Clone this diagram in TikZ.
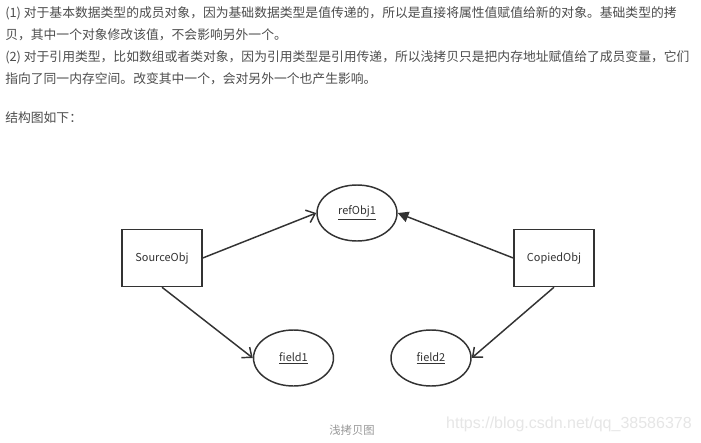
\documentclass[tikz,border=0pt]{standalone}
\usepackage{fontspec}
\setmainfont{Noto Sans CJK SC}
\newfontfamily\cjk{Noto Sans CJK SC}
\newfontfamily\wmfont{Liberation Sans}
\usetikzlibrary{arrows.meta,shapes.geometric}
\definecolor{txt}{HTML}{4D4D4D}
\definecolor{ln}{HTML}{333333}
\definecolor{cap}{HTML}{999999}
\definecolor{wm}{HTML}{E6E6E6}
\tikzset{
  para/.style={anchor=west,inner sep=0pt,text=txt,font=\cjk\fontsize{9.6}{12}\selectfont},
  objbox/.style={draw=ln,line width=1.1pt,minimum width=60pt,minimum height=42.75pt,inner sep=0pt,text=ln,font=\cjk\fontsize{8.2}{10}\selectfont},
  objell/.style={ellipse,draw=ln,line width=1.1pt,minimum width=60pt,minimum height=42pt,inner sep=0pt,text=ln,font=\cjk\fontsize{8.2}{10}\selectfont},
  openarr/.style={draw=ln,line width=1.1pt,-{Straight Barb[length=6pt,width=10pt]}},
  fillarr/.style={draw=ln,line width=1.1pt,-{Triangle[length=8pt,width=8pt]}}
}
\begin{document}
\begin{tikzpicture}[x=0.75pt,y=-0.75pt]
\useasboundingbox[fill=white] (0,0) rectangle (701,443);
\node[para] (l1) at (5,13) {(1) 对于基本数据类型的成员对象，因为基础数据类型是值传递的，所以是直接将属性值赋值给新的对象。基础类型的拷};
\node[para] (l2) at (5,35) {贝，其中一个对象修改该值，不会影响另外一个。};
\node[para] (l3) at (5,57) {(2) 对于引用类型，比如数组或者类对象，因为引用类型是引用传递，所以浅拷贝只是把内存地址赋值给了成员变量，它们};
\node[para] (l4) at (5,79) {指向了同一内存空间。改变其中一个，会对另外一个也产生影响。};
\node[para] (l5) at (5,118) {结构图如下：};

\node[objbox] (src) at (162,258) {SourceObj};
\node[objbox] (cop) at (554,258) {CopiedObj};
\node[objell] (ref) at (357,213) {\underline{refObj1}};
\node[objell] (f1) at (293.5,358) {\underline{field1}};
\node[objell] (f2) at (431,358) {\underline{field2}};

\draw[openarr] (src.east) -- (ref.west);
\draw[openarr] (src.south) -- (f1.west);
\draw[fillarr] (cop.west) -- (ref.east);
\draw[openarr] (cop.south) -- (f2.east);

\node[inner sep=0pt,text=cap,font=\cjk\fontsize{8.5}{10}\selectfont] (caption) at (352,430) {浅拷贝图};
\node[anchor=east,inner sep=0pt,text=wm,font=\wmfont\fontsize{12}{14}\selectfont] (wmark) at (692,424) {https://blog.csdn.net/qq\_38586378};
\end{tikzpicture}
\end{document}
